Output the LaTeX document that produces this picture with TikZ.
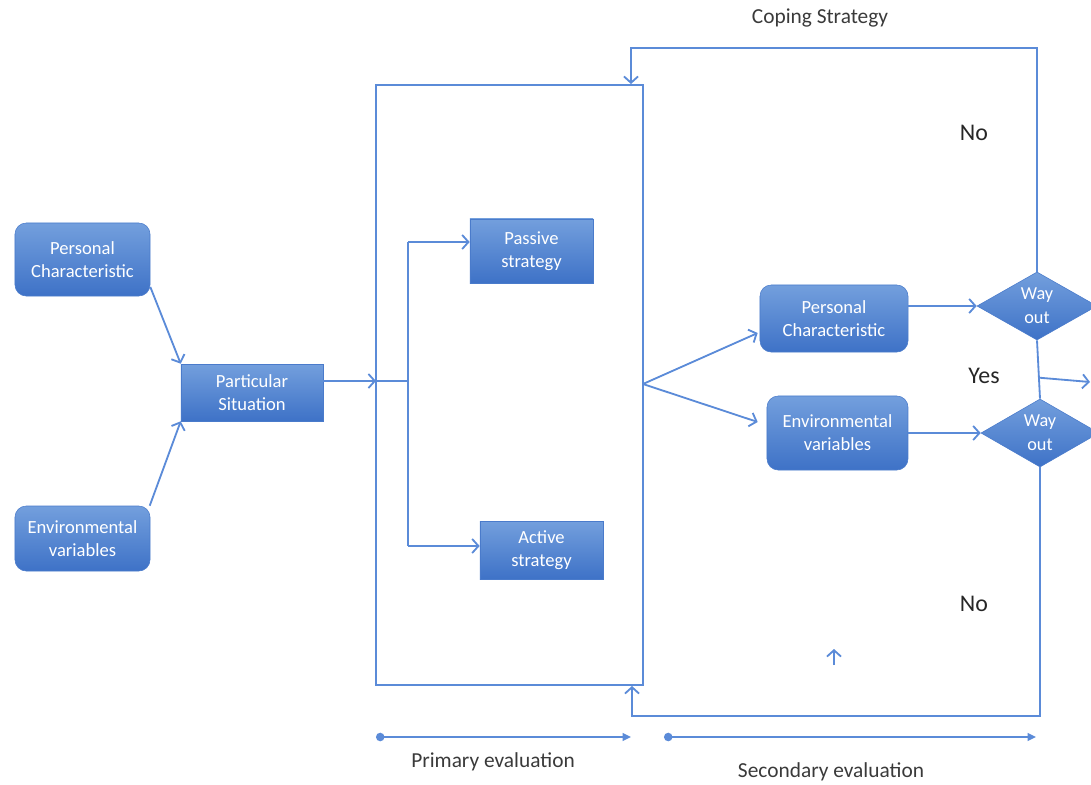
\documentclass[tikz,border=0pt]{standalone}
\usepackage{fontspec}
\setmainfont{Carlito}
\usetikzlibrary{arrows.meta,shapes.geometric,calc}
\definecolor{flow}{HTML}{5B8BD8}
\definecolor{boxtop}{HTML}{739FDD}
\definecolor{boxbot}{HTML}{3E72C7}
\definecolor{boxedge}{HTML}{4A7BCB}
\definecolor{label}{HTML}{3A3A3A}
\begin{document}
\begin{tikzpicture}[x=0.025cm,y=-0.025cm,
  flowline/.style={draw=flow,line width=1.3pt},
  arr/.style={flowline,-{Straight Barb[length=4.5pt,width=10pt,line width=1.3pt]}},
  evalarrow/.style={draw=flow,line width=1.2pt,{Circle[length=6pt]}-{Triangle[length=6pt,width=5.5pt]}},
  box/.style={top color=boxtop,bottom color=boxbot,draw=boxedge,line width=0.4pt,
    text=white,align=center,font=\fontsize{13.2}{16.5}\selectfont,inner sep=0pt},
  rbox/.style={box,rounded corners=8pt},
  way/.style={box,diamond,font=\fontsize{13}{17}\selectfont},
  frame/.style={draw=flow,line width=1.3pt,inner sep=0pt},
  lbl/.style={text=label,font=\fontsize{15.2}{18}\selectfont,inner sep=0pt},
  answer/.style={text=black!85,font=\fontsize{17}{20}\selectfont,inner sep=0pt}
]
\path[use as bounding box] (0,0) rectangle (1091,784);
\clip (0,0) rectangle (1091,784);

% input boxes
\node[rbox,minimum width=3.375cm,minimum height=1.825cm] (pc1) at (82.5,259.5) {Personal\\Characteristic};
\node[rbox,minimum width=3.375cm,minimum height=1.625cm] (ev1) at (82.5,538.5) {Environmental\\variables};
\node[box,minimum width=3.55cm,minimum height=1.425cm] (ps) at (252,392.5) {Particular\\Situation};

% primary evaluation frame and its strategies
\node[frame,minimum width=6.675cm,minimum height=15cm] (frame) at (509.5,385) {};
\node[box,minimum width=3.075cm,minimum height=1.6cm] (passive) at (531.5,251) {Passive\\strategy};
\node[box,minimum width=3.075cm,minimum height=1.45cm] (active) at (541.5,550) {Active\\strategy};

% secondary evaluation
\node[rbox,minimum width=3.7cm,minimum height=1.675cm] (pc2) at (834,318.5) {Personal\\Characteristic};
\node[rbox,minimum width=3.525cm,minimum height=1.85cm] (ev2) at (837.5,433) {Environmental\\variables};
\node[way,minimum width=3cm,minimum height=1.7cm] (d1) at (1037,306) {Way\\out};
\node[way,minimum width=2.95cm,minimum height=1.45cm] (d2) at (1040,433) {Way\\out};

% labels
\node[lbl] (coping) at (820,18) {Coping Strategy};
\node[lbl] (primary) at (493,762) {Primary evaluation};
\node[lbl] (secondary) at (831,772) {Secondary evaluation};
\node[answer] (yes) at (984,376) {Yes};
\node[answer] (notop) at (974,133) {No};
\node[answer] (nobot) at (974,604) {No};

% helper points
\coordinate (entry) at (376,381);
\coordinate (forktop) at (408,242);
\coordinate (forkbot) at (408,546);
\coordinate (fan) at (643,384);
\coordinate (loopT) at (631,48);
\coordinate (loopB) at (632,716);
\coordinate (yesend) at (1090,382);
\coordinate (tickfoot) at (834,665);
\coordinate (tickhead) at (834,649);
\coordinate (pstart) at (376,737);
\coordinate (pend) at (631,737);
\coordinate (sstart) at (664,737);
\coordinate (send) at (1036,737);

% inputs into the situation
\draw[arr] (pc1.-22) -- (ps.north west);
\draw[arr] (ev1.26) -- (ps.south west);
\draw[arr] (ps.east |- entry) -- (entry);

% fork inside the frame
\draw[flowline] (entry) -- (forktop |- entry);
\draw[flowline] (forktop) -- (forkbot);
\draw[arr] (forktop) -- (passive.west |- forktop);
\draw[arr] (forkbot) -- (active.west |- forkbot);

% fan out to the secondary factors
\draw[arr] (fan) -- ($(pc2.west)+(-2,14.5)$);
\draw[arr] (fan) -- ($(ev2.west)+(-9,-11)$);
\draw[arr] (d1.west -| pc2.east) -- (d1.west);
\draw[arr] (d2.west -| ev2.east) -- (d2.west);

% decisions
\draw[flowline] (d1.south) -- (d2.north);
\draw[arr] ($(d1.south)!0.64!(d2.north)$) -- (yesend);
\draw[arr] (d1.north) |- (loopT) -- (frame.north -| loopT);
\draw[arr] (d2.south) |- (loopB) -- (frame.south -| loopB);
\draw[arr] (tickfoot) -- (tickhead);

% evaluation spans
\draw[evalarrow] (pstart) -- (pend);
\draw[evalarrow] (sstart) -- (send);
\end{tikzpicture}
\end{document}
